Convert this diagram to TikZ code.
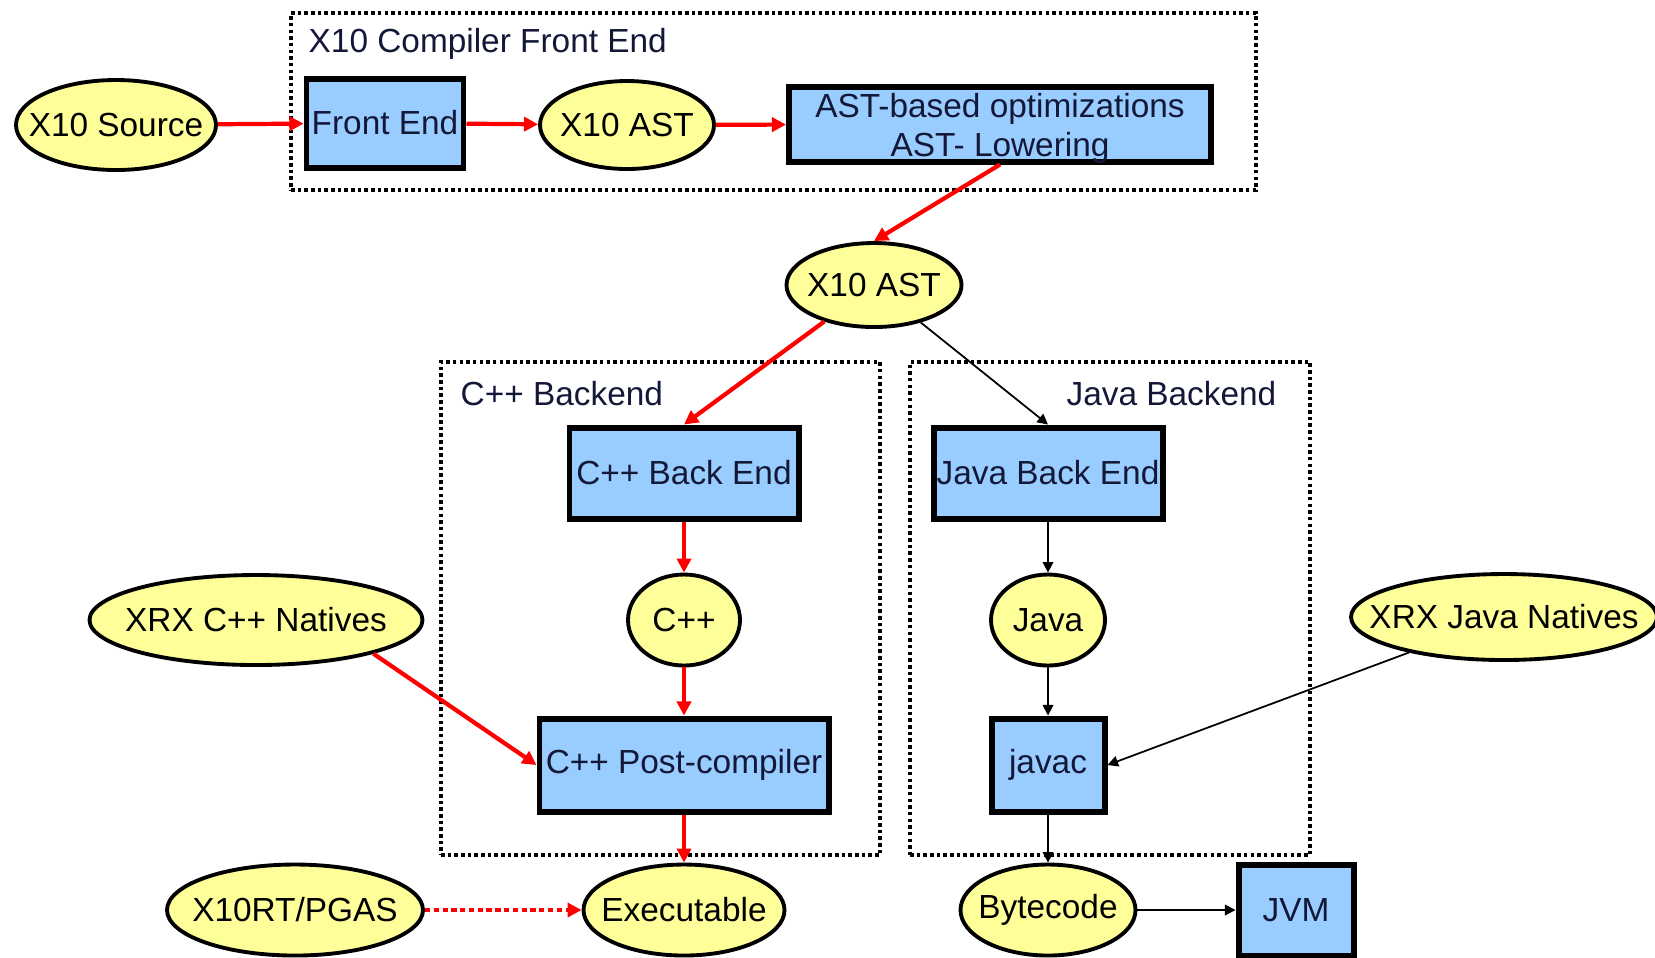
\documentclass[tikz,border=0pt]{standalone}
\usepackage{fontspec}
\setsansfont{Liberation Sans}
\tikzset{every picture/.style={/utils/exec={\sffamily}}}
\usetikzlibrary{shapes.geometric}
\usetikzlibrary{arrows.meta}

\definecolor{boxblue}{RGB}{153,204,255}
\definecolor{ovalyellow}{RGB}{255,255,153}
\definecolor{inkblue}{RGB}{20,24,56}

% ellipses carry their text as a centred label so that they keep their size
\tikzset{
  proc/.style={rectangle, draw, line width=1.7pt, fill=boxblue, text=inkblue, inner sep=0pt},
  datum/.style={ellipse, draw, line width=1.1pt, fill=ovalyellow, inner sep=0pt,
    label={[inner sep=0pt, text=black]center:#1}},
  stage/.style={draw, line width=1.1pt, dash pattern=on 1pt off 0.9pt, inner sep=0pt},
  stagelabel/.style={inner sep=0pt, text=inkblue},
  redflow/.style={-{Triangle[length=4pt,width=4pt]}, red, line width=1.2pt},
  blackflow/.style={-{Triangle[length=3pt,width=3pt]}, black, line width=0.5pt},
}

\begin{document}
\begin{tikzpicture}[font=\fontsize{9.5}{11.1}\selectfont]
  \useasboundingbox (0,0) rectangle (16.55,-9.57);

  % dotted stage frames
  \node[stage, minimum width=9.65cm, minimum height=1.77cm] (fefrm) at (7.735,-1.015) {};
  \node[stage, minimum width=4.39cm, minimum height=4.93cm] (cppfrm) at (6.605,-6.085) {};
  \node[stage, minimum width=4.00cm, minimum height=4.93cm] (javafrm) at (11.10,-6.085) {};

  \node[stagelabel, anchor=west] (felbl) at (3.08,-0.44) {X10 Compiler Front End};
  \node[stagelabel, anchor=west] (cpplbl) at (4.60,-3.94) {C++ Backend};
  \node[stagelabel, anchor=east] (javalbl) at (12.77,-3.94) {Java Backend};

  % front end
  \node[datum=X10 Source, minimum width=2.00cm, minimum height=0.90cm] (src) at (1.16,-1.25) {};
  \node[proc, minimum width=1.57cm, minimum height=0.89cm] (fe) at (3.85,-1.23) {Front End};
  \node[datum=X10 AST, minimum width=1.74cm, minimum height=0.88cm] (ast1) at (6.27,-1.25) {};
  \node[proc, minimum width=4.22cm, minimum height=0.75cm,
    label={[inner sep=0pt, align=center, text=inkblue, yshift=-1.3pt]center:AST-based optimizations\\AST- Lowering}]
    (opt) at (10.00,-1.24) {};

  \node[datum=X10 AST, minimum width=1.75cm, minimum height=0.84cm] (ast2) at (8.74,-2.85) {};

  % C++ side
  \node[proc, minimum width=2.29cm, minimum height=0.91cm] (cppbe) at (6.84,-4.73) {C++ Back End};
  \node[datum=C++, minimum width=1.12cm, minimum height=0.91cm] (cpp) at (6.84,-6.20) {};
  \node[proc, minimum width=2.89cm, minimum height=0.93cm] (post) at (6.84,-7.65) {C++ Post-compiler};
  \node[datum=Executable, minimum width=2.01cm, minimum height=0.91cm] (exe) at (6.84,-9.10) {};
  \node[datum=XRX C++ Natives, minimum width=3.33cm, minimum height=0.90cm] (cppnat) at (2.56,-6.20) {};
  \node[datum=X10RT/PGAS, minimum width=2.56cm, minimum height=0.91cm] (pgas) at (2.95,-9.10) {};

  % Java side
  \node[proc, minimum width=2.29cm, minimum height=0.91cm] (javabe) at (10.48,-4.73) {Java Back End};
  \node[datum=Java, minimum width=1.14cm, minimum height=0.91cm] (java) at (10.48,-6.20) {};
  \node[proc, minimum width=1.13cm, minimum height=0.93cm] (javac) at (10.48,-7.65) {javac};
  \node[datum=Bytecode, minimum width=1.75cm, minimum height=0.91cm] (bytec) at (10.48,-9.10) {};
  \node[proc, minimum width=1.15cm, minimum height=0.91cm] (jvm) at (12.96,-9.10) {JVM};
  \node[datum=XRX Java Natives, minimum width=3.06cm, minimum height=0.86cm] (javanat) at (15.04,-6.17) {};

  \draw [redflow] (src) -- (fe);
  \draw [redflow] (fe) -- (ast1);
  \draw [redflow] (ast1) -- (opt);
  \draw [redflow] (opt.south) -- (ast2.north);
  \draw [redflow] (ast2) -- (cppbe.north);
  \draw [blackflow] (ast2) -- (javabe.north);

  \draw [redflow] (cppbe) -- (cpp);
  \draw [redflow] (cpp) -- (post);
  \draw [redflow] (post) -- (exe);
  \draw [redflow] (cppnat.-16) -- (post.west);
  \draw [redflow, line width=1pt, dash pattern=on 1.5pt off 1pt] (pgas) -- (exe);

  \draw [blackflow] (javabe) -- (java);
  \draw [blackflow] (java) -- (javac);
  \draw [blackflow] (javac) -- (bytec);
  \draw [blackflow] (bytec) -- (jvm);
  \draw [blackflow] (javanat) -- (javac.east);

\end{tikzpicture}
\end{document}
